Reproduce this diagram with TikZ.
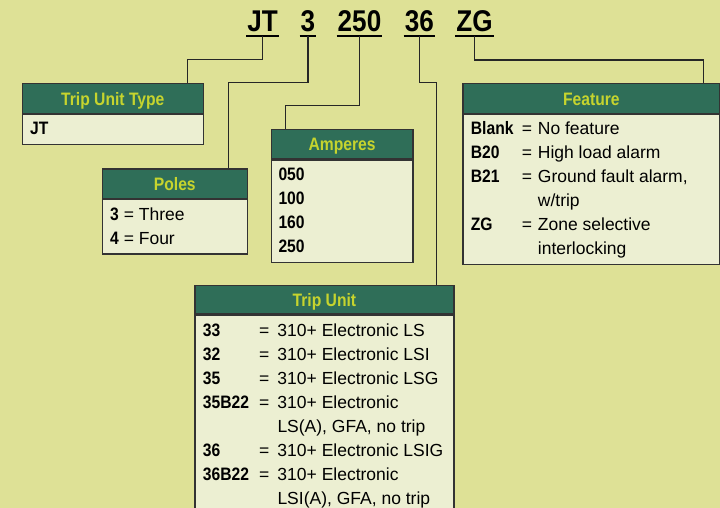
\documentclass[tikz,border=0pt]{standalone}
\usepackage{fontspec}
\setmainfont{Liberation Sans}[BoldFeatures={FakeStretch=0.87}]
\usetikzlibrary{positioning}
\definecolor{bgyel}{HTML}{DEE196}
\definecolor{hdgreen}{HTML}{2F6E58}
\definecolor{hdtext}{HTML}{C6D42E}
\definecolor{bodycream}{HTML}{ECEFD2}
\definecolor{boxline}{HTML}{333333}
\newcommand\kcode[1]{{\bfseries\fontsize{18}{24}\selectfont #1}}

\begin{document}
\begin{tikzpicture}[x=1pt,y=-1pt,
  hdr/.style={draw=boxline,fill=hdgreen,text=hdtext,line width=1.2pt,
    font=\bfseries\fontsize{18}{20}\selectfont,inner sep=0pt,
    minimum height=29.4pt,text height=13pt,text depth=0pt,anchor=north west},
  bodybox/.style={draw=boxline,fill=bodycream,line width=1.2pt,
    inner sep=0pt,anchor=north west},
  item/.style={anchor=base west,inner sep=0pt,
    font=\fontsize{17.5}{24}\selectfont},
  code/.style={anchor=base,inner xsep=1pt,inner ysep=0pt,
    font=\bfseries\fontsize{30}{32}\selectfont},
  link/.style={draw=black!85,line width=1.3pt},
  uline/.style={line width=2pt}]
  % 背景
  \useasboundingbox (0,0) rectangle (720,508);
  \fill[bgyel] (0,0) rectangle (720,508);

  % 型番
  \node[code] (lJT) at (262.5,31.7) {JT};
  \node[code] (lP) at (308,31.7) {3};
  \node[code] (lA) at (359.5,31.7) {250};
  \node[code] (lU) at (419.3,31.7) {36};
  \node[code] (lF) at (474.5,31.7) {ZG};
  \foreach \n in {lJT,lP,lA,lU,lF}
    \draw[uline] ([yshift=-4pt]\n.base west) -- ([yshift=-4pt]\n.base east);

  % Trip Unit Type
  \node[hdr,minimum width=181pt] (typeH) at (21.7,83.3) {Trip Unit Type};
  \node[bodybox,minimum width=181pt,minimum height=30pt] (typeB)
    at (typeH.south west) {};
  \node[item] (typeT) at (30,135) {\kcode{JT}};

  % Poles
  \node[hdr,minimum width=145pt] (polesH) at (101.7,168.3) {Poles};
  \node[bodybox,minimum width=145pt,minimum height=54.4pt] (polesB)
    at (polesH.south west) {};
  \node[item] (polesT) at (110,220) {\begin{tabular}[t]{@{}l@{}}
    \kcode{3} = Three\\
    \kcode{4} = Four
  \end{tabular}};

  % Amperes
  \node[hdr,minimum width=141.6pt] (ampH) at (270.7,129) {Amperes};
  \node[bodybox,minimum width=141.6pt,minimum height=102.4pt] (ampB)
    at (ampH.south west) {};
  \node[item] (ampT) at (278.3,180.7) {\begin{tabular}[t]{@{}l@{}}
    \kcode{050}\\ \kcode{100}\\ \kcode{160}\\ \kcode{250}
  \end{tabular}};

  % Feature
  \node[hdr,minimum width=257pt] (featH) at (462.3,83.3) {Feature};
  \node[bodybox,minimum width=257pt,minimum height=150pt] (featB)
    at (featH.south west) {};
  \node[item] (featT) at (470.7,134.3) {\begin{tabular}[t]{@{}p{51pt}@{}p{16pt}@{}l@{}}
    \kcode{Blank} & = & No feature\\
    \kcode{B20} & = & High load alarm\\
    \kcode{B21} & = & Ground fault alarm,\\
     & & w/trip\\
    \kcode{ZG} & = & Zone selective\\
     & & interlocking
  \end{tabular}};

  % Trip Unit
  \node[hdr,minimum width=259pt,minimum height=28.3pt] (unitH) at (194.3,285) {Trip Unit};
  \node[bodybox,minimum width=259pt,minimum height=207pt] (unitB)
    at (unitH.south west) {};
  \node[item] (unitT) at (202.7,336.5) {\begin{tabular}[t]{@{}p{56.3pt}@{}p{18.3pt}@{}l@{}}
    \kcode{33} & = & 310+ Electronic LS\\
    \kcode{32} & = & 310+ Electronic LSI\\
    \kcode{35} & = & 310+ Electronic LSG\\
    \kcode{35B22} & = & 310+ Electronic\\
     & & LS(A), GFA, no trip\\
    \kcode{36} & = & 310+ Electronic LSIG\\
    \kcode{36B22} & = & 310+ Electronic\\
     & & LSI(A), GFA, no trip
  \end{tabular}};

  % 引出線
  \coordinate (bJT) at (187.7,59.3);
  \coordinate (bP) at (228.3,82.3);
  \coordinate (bA) at (285.7,105.3);
  \coordinate (bU) at (436.7,82.3);
  \coordinate (bF) at (703.3,60);
  \draw[link] ([yshift=-4pt]lJT.base) |- (bJT) -- (bJT |- typeH.north);
  \draw[link] ([yshift=-4pt]lP.base) |- (bP) -- (bP |- polesH.north);
  \draw[link] ([yshift=-4pt]lA.base) |- (bA) -- (bA |- ampH.north);
  \draw[link] ([yshift=-4pt]lU.base) |- (bU) -- (bU |- unitH.north);
  \draw[link] ([yshift=-4pt]lF.base) |- (bF) -- (bF |- featH.north);
\end{tikzpicture}
\end{document}
